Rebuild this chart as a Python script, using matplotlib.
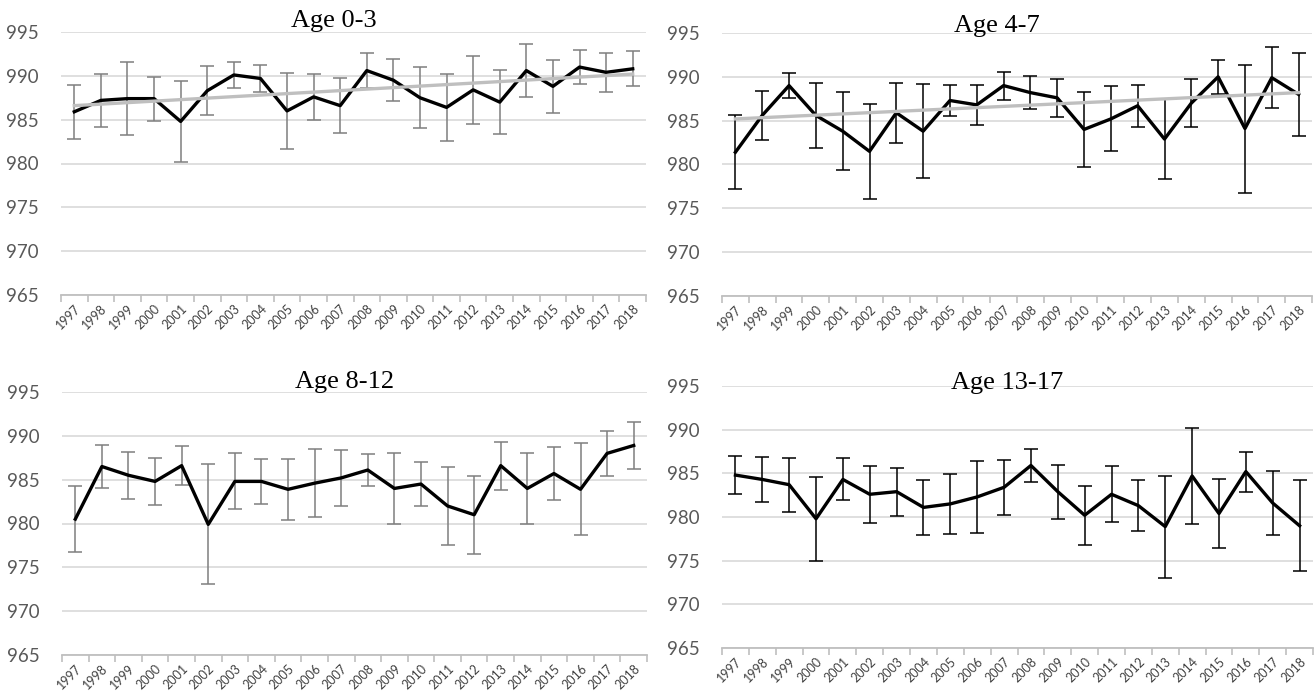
import numpy as np
import matplotlib
matplotlib.use("Agg")
import matplotlib.pyplot as plt

# -------------------------
# Data
# -------------------------
years = [str(y) for y in range(1997, 2019)]

age_0_3 = [985.9, 987.2, 987.4, 987.4, 984.8, 988.3, 990.1, 989.7, 986.0, 987.6, 986.6,
           990.6, 989.5, 987.5, 986.4, 988.4, 987.0, 990.6, 988.8, 991.0, 990.4, 990.8]
err_0_3 = [3.1, 3.05, 4.2, 2.5, 4.6, 2.8, 1.5, 1.5, 4.35, 2.6, 3.1,
           1.95, 2.4, 3.5, 3.8, 3.9, 3.65, 3.0, 3.0, 1.95, 2.2, 2.0]
trend_0_3 = [986.6, 990.2]   # linear trendline, first and last year

age_4_7 = [981.4, 985.6, 989.0, 985.6, 983.8, 981.5, 985.9, 983.8, 987.3, 986.8, 989.0,
           988.2, 987.6, 984.0, 985.2, 986.7, 982.9, 987.0, 990.0, 984.1, 989.9, 988.0]
err_4_7 = [4.2, 2.8, 1.4, 3.75, 4.45, 5.45, 3.45, 5.35, 1.75, 2.25, 1.6,
           1.9, 2.2, 4.3, 3.7, 2.4, 4.6, 2.7, 1.95, 7.3, 3.45, 4.75]
trend_4_7 = [985.2, 988.2]

age_8_12 = [980.5, 986.5, 985.5, 984.8, 986.6, 979.9, 984.8, 984.8, 983.9, 984.6, 985.2,
            986.1, 984.0, 984.5, 982.0, 981.0, 986.6, 984.0, 985.7, 983.9, 988.0, 988.9]
err_8_12 = [3.75, 2.4, 2.65, 2.65, 2.2, 6.85, 3.2, 2.6, 3.45, 3.9, 3.2,
            1.85, 4.0, 2.55, 4.45, 4.45, 2.75, 4.05, 3.05, 5.25, 2.55, 2.7]

age_13_17 = [984.8, 984.3, 983.7, 979.8, 984.3, 982.6, 982.9, 981.1, 981.5, 982.3, 983.4,
             985.9, 982.9, 980.2, 982.6, 981.3, 978.9, 984.7, 980.4, 985.2, 981.6, 979.0]
err_13_17 = [2.2, 2.6, 3.1, 4.8, 2.4, 3.25, 2.75, 3.15, 3.45, 4.1, 3.15,
             1.85, 3.1, 3.4, 3.2, 2.95, 5.85, 5.5, 3.9, 2.3, 3.7, 5.2]

titles = ["Age 0-3", "Age 4-7", "Age 8-12", "Age 13-17"]
y_ticks = [965, 970, 975, 980, 985, 990, 995]

# -------------------------
# Layout (pixel boxes on a 1314x695 canvas)
# -------------------------
W, H = 1314, 695
fig = plt.figure(figsize=(W / 100, H / 100), dpi=100)


def px_axes(left, right, top, bottom):
    return fig.add_axes([left / W, 1 - bottom / H, (right - left) / W, (bottom - top) / H])


panels = [
    # (values, errors, err colour, trend, axes box, title x, title baseline y)
    (age_0_3, err_0_3, "#7f7f7f", trend_0_3, (61, 646, 32, 295), 334, 27),
    (age_4_7, err_4_7, "black", trend_4_7, (722, 1312, 33, 296), 997, 32),
    (age_8_12, err_8_12, "#7f7f7f", None, (62, 647, 392, 655), 345, 388),
    (age_13_17, err_13_17, "black", None, (722, 1313, 386, 648), 1007, 389),
]

tick_font = "Lato"

for (vals, errs, ecol, trend, box, tx, ty), title in zip(panels, titles):
    ax = px_axes(*box)
    x = np.arange(len(years))

    ax.errorbar(x, vals, yerr=errs, fmt="none", ecolor=ecol, elinewidth=1.1,
                capsize=5, capthick=1.1, zorder=2)
    ax.plot(x, vals, color="black", lw=2.4, zorder=3)

    if trend is not None:
        ax.plot([x[0], x[-1]], trend, color="#bfbfbf", lw=2.4, zorder=4)

    ax.set_xlim(-0.5, len(years) - 0.5)
    ax.set_ylim(965, 995)
    ax.set_yticks(y_ticks)
    ax.set_yticklabels([str(t) for t in y_ticks], fontsize=13.5, color="#595959",
                       family=tick_font)
    ax.tick_params(axis="y", length=0, pad=16)
    ax.grid(axis="y", color="#d9d9d9", lw=1.2)
    ax.set_axisbelow(True)

    # categories sit between boundary ticks, Excel style
    ax.set_xticks(x)
    ax.set_xticklabels(years, rotation=45, ha="right", rotation_mode="anchor",
                       fontsize=9, color="#404040", family=tick_font)
    ax.tick_params(axis="x", which="major", length=0, pad=5)
    ax.set_xticks(np.arange(-0.5, len(years)), minor=True)
    ax.tick_params(axis="x", which="minor", length=5, width=1.2, color="#bfbfbf", direction="out")

    for side in ["top", "right", "left"]:
        ax.spines[side].set_visible(False)
    ax.spines["bottom"].set_color("#bfbfbf")
    ax.spines["bottom"].set_linewidth(1.3)

    fig.text(tx / W, 1 - ty / H, title, ha="center", va="baseline",
             fontsize=19, family="Liberation Serif", color="black")

fig.savefig("out.png", dpi=100)
